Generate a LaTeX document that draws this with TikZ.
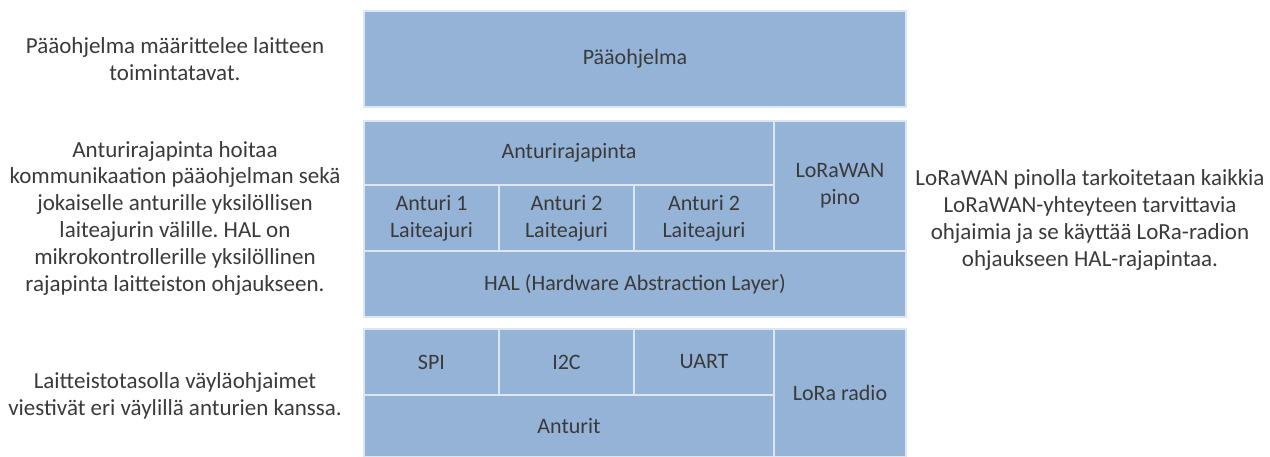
\documentclass[tikz,border=0pt]{standalone}
\usepackage{fontspec}
\setmainfont{Carlito}
\frenchspacing
\definecolor{cellfill}{HTML}{94B3D6}
\definecolor{cellline}{HTML}{DCE6F2}
\definecolor{txt}{HTML}{3A3A3A}
\tikzset{
  cellbox/.style={draw=cellline, line width=1.6pt, fill=cellfill, inner sep=0pt,
    text=txt, align=center, font=\fontsize{22}{27}\selectfont},
  note/.style={text=txt, align=center, inner sep=0pt,
    font=\fontsize{23}{26.8}\selectfont}
}
\begin{document}
\begin{tikzpicture}[x=1pt,y=-1pt]
  \useasboundingbox (0,0) rectangle (1270,457);
  % main program layer
  \node[cellbox, minimum width=542pt, minimum height=96pt] (paa) at (635,59) {Pääohjelma};
  % sensor interface, drivers, LoRaWAN stack and HAL
  \node[cellbox, minimum width=410pt, minimum height=64pt] (antraj) at (569,153) {Anturirajapinta};
  \node[cellbox, minimum width=132pt, minimum height=130pt] (lorawan) at (840,186) {LoRaWAN\\pino};
  \node[cellbox, minimum width=135pt, minimum height=66pt] (a1) at (431.5,218) {Anturi 1\\Laiteajuri};
  \node[cellbox, minimum width=135pt, minimum height=66pt] (a2) at (566.5,218) {Anturi 2\\Laiteajuri};
  \node[cellbox, minimum width=140pt, minimum height=66pt] (a3) at (704,218) {Anturi 2\\Laiteajuri};
  \node[cellbox, minimum width=542pt, minimum height=66pt] (hal) at (635,284) {HAL (Hardware Abstraction Layer)};
  % hardware layer
  \node[cellbox, minimum width=135pt, minimum height=66pt] (spi) at (431.5,362) {SPI};
  \node[cellbox, minimum width=135pt, minimum height=66pt] (i2c) at (566.5,362) {I2C};
  \node[cellbox, minimum width=140pt, minimum height=66pt] (uart) at (704,362) {UART};
  \node[cellbox, minimum width=410pt, minimum height=62pt] (anturit) at (569,426) {Anturit};
  \node[cellbox, minimum width=132pt, minimum height=128pt] (lora) at (840,393) {LoRa radio};
  % explanations
  \node[note] (n1) at (175,59) {Pääohjelma määrittelee laitteen\\toimintatavat.};
  \node[note] (n2) at (175,218) {Anturirajapinta hoitaa\\kommunikaation pääohjelman sekä\\jokaiselle anturille yksilöllisen\\laiteajurin välille. HAL on\\mikrokontrollerille yksilöllinen\\rajapinta laitteiston ohjaukseen.};
  \node[note] (n3) at (175,396) {Laitteistotasolla väyläohjaimet\\viestivät eri väylillä anturien kanssa.};
  \node[note] (n4) at (1090,220) {LoRaWAN pinolla tarkoitetaan kaikkia\\LoRaWAN-yhteyteen tarvittavia\\ohjaimia ja se käyttää LoRa-radion\\ohjaukseen HAL-rajapintaa.};
\end{tikzpicture}
\end{document}
